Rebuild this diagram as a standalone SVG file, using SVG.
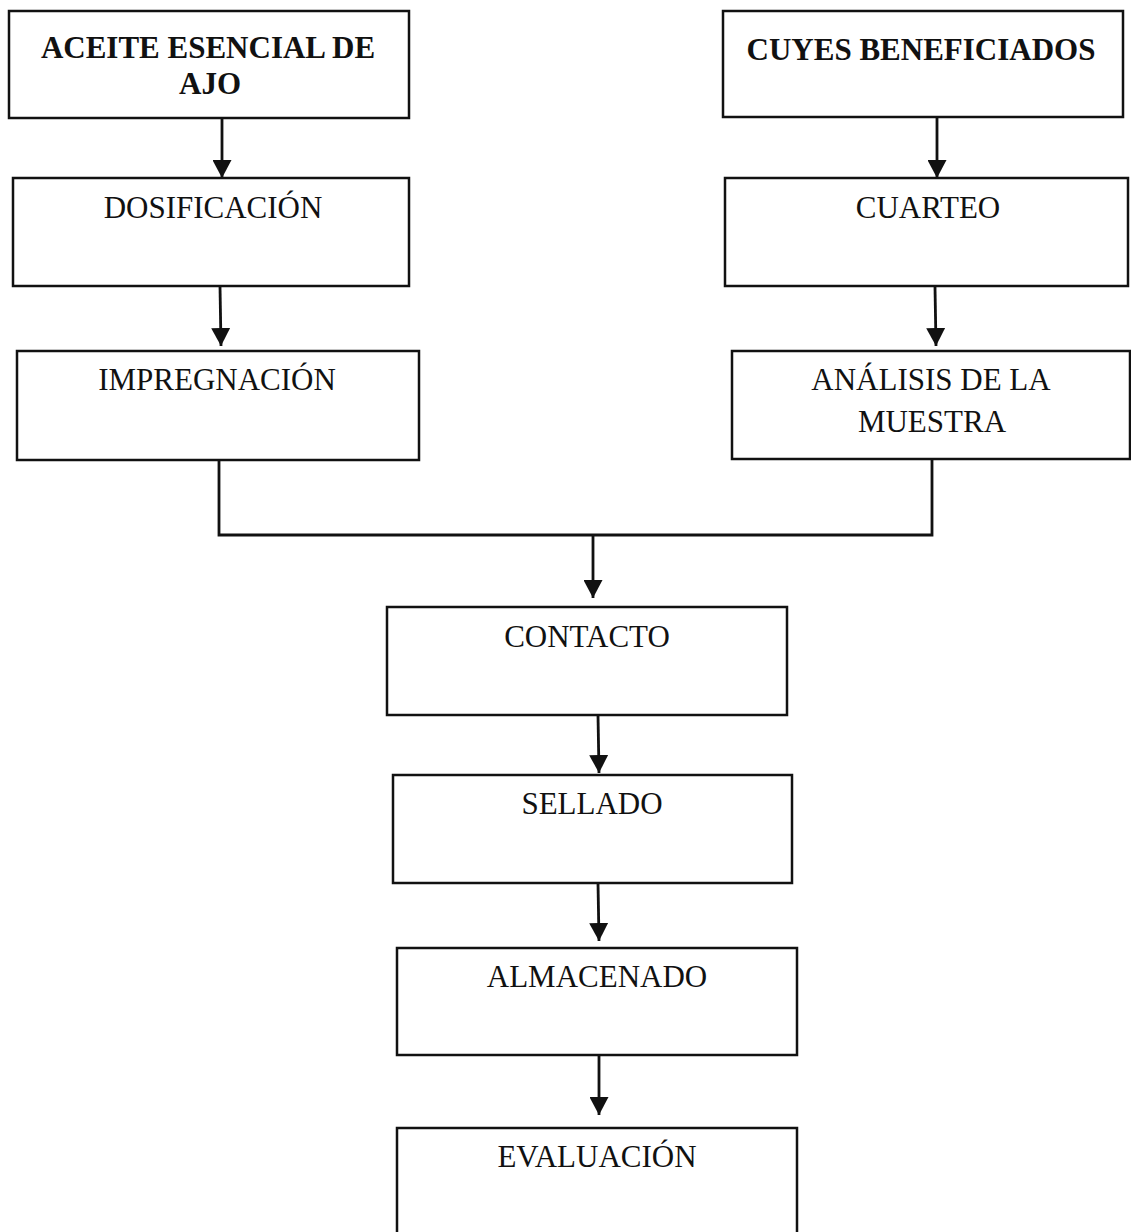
<svg xmlns="http://www.w3.org/2000/svg" width="1131" height="1232" viewBox="0 0 1131 1232">
<style>
.box{fill:#fff;stroke:#111;stroke-width:2.5}
.t{font-family:"Liberation Serif","Times New Roman",serif;font-size:31px;fill:#111;text-anchor:middle}
.b{font-weight:bold}
.c{fill:none;stroke:#111;stroke-width:2.8}
</style>
<defs>
<marker id="ah" markerUnits="userSpaceOnUse" markerWidth="20" markerHeight="19" refX="18" refY="9.5" orient="auto">
<path d="M0,0 L18,9.5 L0,19 Z" fill="#111"/>
</marker>
</defs>
<rect width="1131" height="1232" fill="#fff"/>
<g id="connectors">
<line class="c" x1="222" y1="118" x2="222" y2="178" marker-end="url(#ah)"/>
<line class="c" x1="937" y1="117" x2="937" y2="178" marker-end="url(#ah)"/>
<line class="c" x1="220" y1="286" x2="221" y2="346" marker-end="url(#ah)"/>
<line class="c" x1="935" y1="287" x2="936" y2="346" marker-end="url(#ah)"/>
<polyline class="c" points="219,460 219,535 932,535 932,459"/>
<line class="c" x1="593" y1="535" x2="593" y2="598" marker-end="url(#ah)"/>
<line class="c" x1="598" y1="715" x2="599" y2="773" marker-end="url(#ah)"/>
<line class="c" x1="598" y1="883" x2="599" y2="941" marker-end="url(#ah)"/>
<line class="c" x1="599" y1="1055" x2="599" y2="1115" marker-end="url(#ah)"/>
</g>
<g id="n-aceite">
<rect class="box" x="9" y="11" width="400" height="107"/>
<text class="t b" x="208" y="58">ACEITE ESENCIAL DE</text>
<text class="t b" x="210" y="94">AJO</text>
</g>
<g id="n-cuyes">
<rect class="box" x="723" y="11" width="400" height="106"/>
<text class="t b" x="921" y="60">CUYES BENEFICIADOS</text>
</g>
<g id="n-dosificacion">
<rect class="box" x="13" y="178" width="396" height="108"/>
<text class="t" x="213" y="218">DOSIFICACIÓN</text>
</g>
<g id="n-cuarteo">
<rect class="box" x="725" y="178" width="403" height="108"/>
<text class="t" x="928" y="218">CUARTEO</text>
</g>
<g id="n-impregnacion">
<rect class="box" x="17" y="351" width="402" height="109"/>
<text class="t" x="217" y="390">IMPREGNACIÓN</text>
</g>
<g id="n-analisis">
<rect class="box" x="732" y="351" width="398" height="108"/>
<text class="t" x="931" y="390">ANÁLISIS DE LA</text>
<text class="t" x="932" y="432">MUESTRA</text>
</g>
<g id="n-contacto">
<rect class="box" x="387" y="607" width="400" height="108"/>
<text class="t" x="587" y="647">CONTACTO</text>
</g>
<g id="n-sellado">
<rect class="box" x="393" y="775" width="399" height="108"/>
<text class="t" x="592" y="814">SELLADO</text>
</g>
<g id="n-almacenado">
<rect class="box" x="397" y="948" width="400" height="107"/>
<text class="t" x="597" y="987">ALMACENADO</text>
</g>
<g id="n-evaluacion">
<rect class="box" x="397" y="1128" width="400" height="120"/>
<text class="t" x="597" y="1167">EVALUACIÓN</text>
</g>
</svg>
